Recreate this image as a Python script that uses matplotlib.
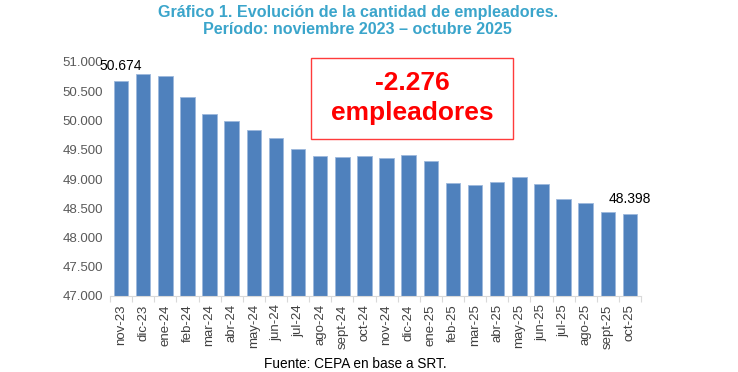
import numpy as np
import matplotlib.pyplot as plt

plt.rcParams['font.family'] = ['Liberation Sans', 'DejaVu Sans']

meses = ['nov-23', 'dic-23', 'ene-24', 'feb-24', 'mar-24', 'abr-24', 'may-24', 'jun-24',
         'jul-24', 'ago-24', 'sept-24', 'oct-24', 'nov-24', 'dic-24', 'ene-25', 'feb-25',
         'mar-25', 'abr-25', 'may-25', 'jun-25', 'jul-25', 'ago-25', 'sept-25', 'oct-25']
empleadores = [50674, 50790, 50767, 50408, 50118, 49986, 49832, 49707,
               49519, 49393, 49376, 49400, 49354, 49417, 49303, 48932,
               48892, 48949, 49034, 48921, 48665, 48585, 48443, 48398]
yticks = [47000, 47500, 48000, 48500, 49000, 49500, 50000, 50500, 51000]


def miles(v):
    return f'{v:,.0f}'.replace(',', '.')


fig = plt.figure(figsize=(7.38, 3.72), dpi=100)
ax = fig.add_axes([110 / 738, 1 - 296 / 372, 531 / 738, 234 / 372])

x = np.arange(len(meses))
ax.bar(x, empleadores, width=0.66, color='#4F81BD', edgecolor='#9DB8DC', linewidth=0.6)

ax.set_ylim(47000, 51000)
ax.set_xlim(-0.5, len(meses) - 0.5)
ax.set_yticks(yticks)
ax.set_yticklabels([miles(v) for v in yticks], fontsize=9.5, color='#595959')
ax.set_xticks(np.arange(len(meses) + 1) - 0.5, minor=False)
ax.set_xticklabels([])
ax.set_xticks(x, minor=True)
ax.set_xticklabels(meses, minor=True, rotation=90, fontsize=9.5, color='#404040')
ax.tick_params(axis='x', which='major', length=4, color='#D9D9D9')
ax.tick_params(axis='x', which='minor', length=0, pad=6)
ax.tick_params(axis='y', length=0, pad=5)
for s in ['top', 'right', 'left']:
    ax.spines[s].set_visible(False)
ax.spines['bottom'].set_color('#D9D9D9')

# etiquetas de primer y ultimo valor
for i in [0, len(meses) - 1]:
    ax.annotate(miles(empleadores[i]), (x[i], empleadores[i]), xytext=(0, 6),
                textcoords='offset points', ha='center', va='bottom', fontsize=10)

fig.text(0.485, 1 - 12 / 372, 'Gráfico 1. Evolución de la cantidad de empleadores.',
         ha='center', va='center', fontsize=11.6, fontweight='bold', color='#3BA5CB')
fig.text(0.485, 1 - 30 / 372, 'Período: noviembre 2023 – octubre 2025',
         ha='center', va='center', fontsize=11.6, fontweight='bold', color='#3BA5CB')

fig.text(412 / 738, 1 - 98 / 372, '-2.276\nempleadores', ha='center', va='center',
         fontsize=19, fontweight='bold', color='#FF0000', linespacing=1.3)
fig.patches.append(plt.Rectangle((311 / 738, 1 - 139 / 372), 202 / 738, 81 / 372,
                                 transform=fig.transFigure, fill=False,
                                 edgecolor='#FF3B3B', linewidth=1))

fig.text(355 / 738, 1 - 364 / 372, 'Fuente: CEPA en base a SRT.', ha='center', va='center',
         fontsize=9.8, color='#000000')

plt.savefig('out.png', dpi=100)
plt.close()
